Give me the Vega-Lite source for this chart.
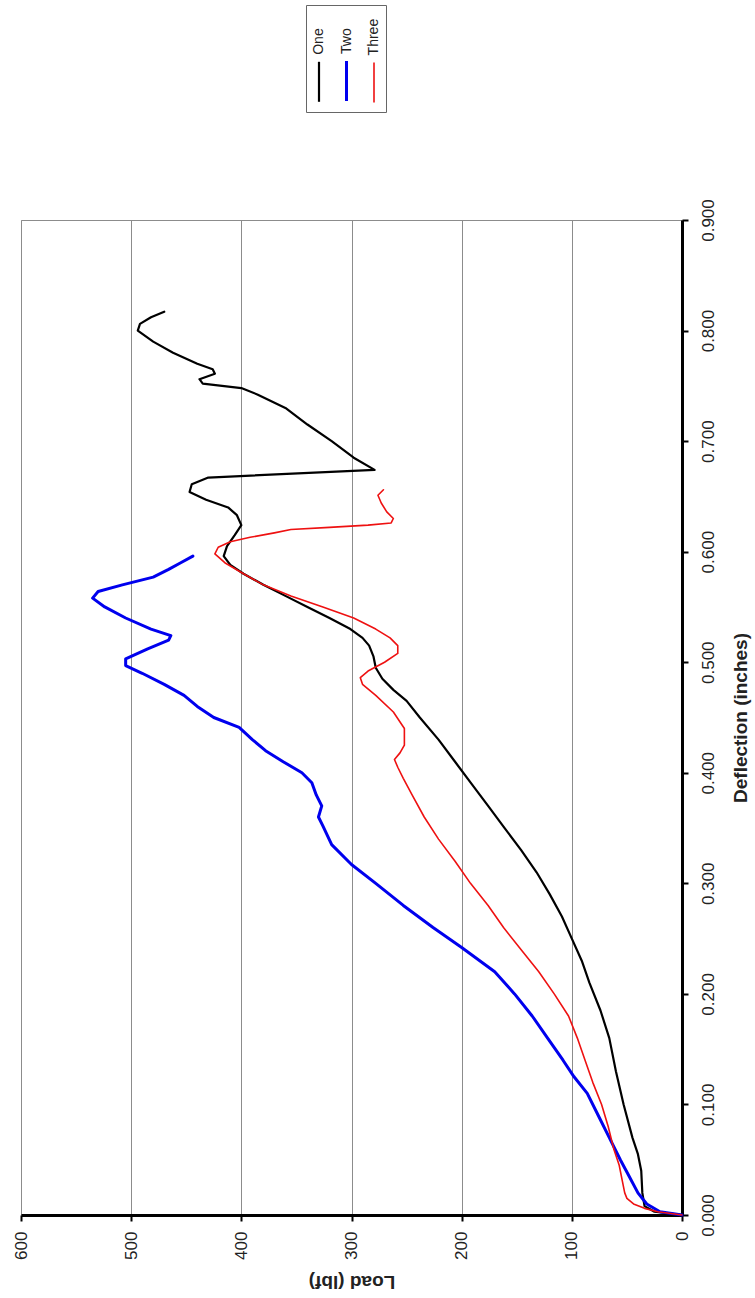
{
  "$schema": "https://vega.github.io/schema/vega-lite/v6.json",
  "width": 661,
  "height": 995,
  "autosize": {"type": "none"},
  "padding": {"left": 21, "top": 220, "right": 73, "bottom": 83},
  "background": "white",
  "config": {
    "font": "Liberation Sans",
    "view": {"stroke": "#8c8c8c", "strokeWidth": 1}
  },
  "data": {
    "values": [
      {"s":"One","d":0,"l":0},{"s":"One","d":0.003,"l":25},{"s":"One","d":0.008,"l":34},{"s":"One","d":0.02,"l":36},{"s":"One","d":0.04,"l":37},{"s":"One","d":0.055,"l":40},{"s":"One","d":0.07,"l":45},{"s":"One","d":0.1,"l":53},{"s":"One","d":0.13,"l":60},{"s":"One","d":0.16,"l":66},{"s":"One","d":0.185,"l":74},{"s":"One","d":0.21,"l":84},{"s":"One","d":0.23,"l":91},{"s":"One","d":0.25,"l":100},{"s":"One","d":0.27,"l":109},{"s":"One","d":0.29,"l":120},{"s":"One","d":0.31,"l":132},{"s":"One","d":0.33,"l":146},{"s":"One","d":0.35,"l":161},{"s":"One","d":0.37,"l":176},{"s":"One","d":0.39,"l":191},{"s":"One","d":0.41,"l":206},{"s":"One","d":0.43,"l":221},{"s":"One","d":0.45,"l":238},{"s":"One","d":0.465,"l":250},{"s":"One","d":0.475,"l":262},{"s":"One","d":0.485,"l":272},{"s":"One","d":0.495,"l":278},{"s":"One","d":0.505,"l":280},{"s":"One","d":0.515,"l":284},{"s":"One","d":0.522,"l":290},{"s":"One","d":0.53,"l":301},{"s":"One","d":0.54,"l":320},{"s":"One","d":0.55,"l":340},{"s":"One","d":0.56,"l":360},{"s":"One","d":0.57,"l":380},{"s":"One","d":0.58,"l":398},{"s":"One","d":0.588,"l":410},{"s":"One","d":0.596,"l":416},{"s":"One","d":0.605,"l":413},{"s":"One","d":0.615,"l":406},{"s":"One","d":0.624,"l":400},{"s":"One","d":0.633,"l":404},{"s":"One","d":0.64,"l":412},{"s":"One","d":0.647,"l":432},{"s":"One","d":0.654,"l":447},{"s":"One","d":0.661,"l":445},{"s":"One","d":0.667,"l":430},{"s":"One","d":0.674,"l":279},{"s":"One","d":0.685,"l":298},{"s":"One","d":0.7,"l":318},{"s":"One","d":0.715,"l":340},{"s":"One","d":0.73,"l":360},{"s":"One","d":0.742,"l":385},{"s":"One","d":0.748,"l":400},{"s":"One","d":0.752,"l":435},{"s":"One","d":0.756,"l":438},{"s":"One","d":0.761,"l":424},{"s":"One","d":0.765,"l":426},{"s":"One","d":0.77,"l":440},{"s":"One","d":0.78,"l":462},{"s":"One","d":0.79,"l":480},{"s":"One","d":0.8,"l":494},{"s":"One","d":0.806,"l":492},{"s":"One","d":0.812,"l":482},{"s":"One","d":0.817,"l":470},
      {"s":"Two","d":0,"l":0},{"s":"Two","d":0.003,"l":20},{"s":"Two","d":0.01,"l":32},{"s":"Two","d":0.02,"l":40},{"s":"Two","d":0.035,"l":48},{"s":"Two","d":0.05,"l":56},{"s":"Two","d":0.07,"l":66},{"s":"Two","d":0.09,"l":76},{"s":"Two","d":0.11,"l":86},{"s":"Two","d":0.125,"l":98},{"s":"Two","d":0.14,"l":108},{"s":"Two","d":0.16,"l":122},{"s":"Two","d":0.18,"l":136},{"s":"Two","d":0.2,"l":152},{"s":"Two","d":0.22,"l":170},{"s":"Two","d":0.242,"l":200},{"s":"Two","d":0.26,"l":226},{"s":"Two","d":0.28,"l":253},{"s":"Two","d":0.3,"l":278},{"s":"Two","d":0.317,"l":300},{"s":"Two","d":0.335,"l":318},{"s":"Two","d":0.352,"l":326},{"s":"Two","d":0.36,"l":330},{"s":"Two","d":0.37,"l":327},{"s":"Two","d":0.38,"l":332},{"s":"Two","d":0.391,"l":336},{"s":"Two","d":0.4,"l":345},{"s":"Two","d":0.41,"l":362},{"s":"Two","d":0.42,"l":378},{"s":"Two","d":0.43,"l":390},{"s":"Two","d":0.441,"l":402},{"s":"Two","d":0.45,"l":425},{"s":"Two","d":0.46,"l":440},{"s":"Two","d":0.47,"l":452},{"s":"Two","d":0.48,"l":470},{"s":"Two","d":0.49,"l":490},{"s":"Two","d":0.497,"l":505},{"s":"Two","d":0.503,"l":505},{"s":"Two","d":0.512,"l":485},{"s":"Two","d":0.52,"l":466},{"s":"Two","d":0.524,"l":464},{"s":"Two","d":0.53,"l":482},{"s":"Two","d":0.54,"l":505},{"s":"Two","d":0.55,"l":524},{"s":"Two","d":0.558,"l":535},{"s":"Two","d":0.564,"l":530},{"s":"Two","d":0.57,"l":508},{"s":"Two","d":0.577,"l":480},{"s":"Two","d":0.584,"l":466},{"s":"Two","d":0.59,"l":455},{"s":"Two","d":0.596,"l":444},
      {"s":"Three","d":0,"l":0},{"s":"Three","d":0.003,"l":22},{"s":"Three","d":0.006,"l":34},{"s":"Three","d":0.01,"l":44},{"s":"Three","d":0.015,"l":50},{"s":"Three","d":0.02,"l":52},{"s":"Three","d":0.03,"l":54},{"s":"Three","d":0.045,"l":57},{"s":"Three","d":0.06,"l":62},{"s":"Three","d":0.08,"l":67},{"s":"Three","d":0.1,"l":73},{"s":"Three","d":0.12,"l":81},{"s":"Three","d":0.14,"l":88},{"s":"Three","d":0.16,"l":95},{"s":"Three","d":0.18,"l":103},{"s":"Three","d":0.2,"l":116},{"s":"Three","d":0.22,"l":130},{"s":"Three","d":0.24,"l":146},{"s":"Three","d":0.26,"l":162},{"s":"Three","d":0.28,"l":176},{"s":"Three","d":0.3,"l":192},{"s":"Three","d":0.32,"l":206},{"s":"Three","d":0.34,"l":221},{"s":"Three","d":0.36,"l":234},{"s":"Three","d":0.38,"l":245},{"s":"Three","d":0.395,"l":253},{"s":"Three","d":0.405,"l":258},{"s":"Three","d":0.412,"l":261},{"s":"Three","d":0.418,"l":256},{"s":"Three","d":0.425,"l":252},{"s":"Three","d":0.44,"l":252},{"s":"Three","d":0.455,"l":262},{"s":"Three","d":0.47,"l":278},{"s":"Three","d":0.48,"l":290},{"s":"Three","d":0.486,"l":292},{"s":"Three","d":0.492,"l":285},{"s":"Three","d":0.5,"l":270},{"s":"Three","d":0.508,"l":258},{"s":"Three","d":0.515,"l":258},{"s":"Three","d":0.522,"l":265},{"s":"Three","d":0.53,"l":278},{"s":"Three","d":0.54,"l":298},{"s":"Three","d":0.55,"l":326},{"s":"Three","d":0.56,"l":355},{"s":"Three","d":0.57,"l":380},{"s":"Three","d":0.58,"l":398},{"s":"Three","d":0.59,"l":415},{"s":"Three","d":0.598,"l":424},{"s":"Three","d":0.604,"l":421},{"s":"Three","d":0.609,"l":410},{"s":"Three","d":0.613,"l":392},{"s":"Three","d":0.617,"l":370},{"s":"Three","d":0.62,"l":355},{"s":"Three","d":0.622,"l":320},{"s":"Three","d":0.624,"l":285},{"s":"Three","d":0.626,"l":264},{"s":"Three","d":0.63,"l":262},{"s":"Three","d":0.636,"l":268},{"s":"Three","d":0.644,"l":273},{"s":"Three","d":0.651,"l":276},{"s":"Three","d":0.656,"l":271}
    ]
  },
  "mark": {"type": "line", "strokeJoin": "round", "strokeCap": "round"},
  "encoding": {
    "x": {
      "field": "l", "type": "quantitative",
      "scale": {"domain": [0, 600], "reverse": true, "nice": false, "zero": false},
      "axis": {
        "values": [0, 100, 200, 300, 400, 500, 600],
        "title": "Load (lbf)", "titleAngle": 180, "titleFontSize": 19, "titleFontWeight": "bold",
        "titleY": 66, "titleBaseline": "middle", "titleColor": "#222",
        "labelAngle": 270, "labelAlign": "right", "labelBaseline": "middle", "labelPadding": 10,
        "labelFontSize": 17, "labelColor": "#222", "labelFlush": false, "labelOverlap": false,
        "grid": true, "gridColor": "#8c8c8c", "gridWidth": 1,
        "domainColor": "#000", "domainWidth": 3, "tickColor": "#000", "tickWidth": 2, "tickSize": 6
      }
    },
    "y": {
      "field": "d", "type": "quantitative",
      "scale": {"domain": [0, 0.9], "nice": false, "zero": false},
      "axis": {
        "orient": "right",
        "values": [0, 0.1, 0.2, 0.3, 0.4, 0.5, 0.6, 0.7, 0.8, 0.9],
        "format": ".3f", "grid": false,
        "title": "Deflection (inches)", "titleAngle": 270, "titleX": 58, "titleBaseline": "middle",
        "titleFontWeight": "bold", "titleFontSize": 19, "titleColor": "#222",
        "labelAngle": 270, "labelAlign": "center", "labelBaseline": "middle", "labelPadding": 20,
        "labelFontSize": 17, "labelColor": "#222", "labelFlush": false, "labelOverlap": false,
        "domainColor": "#000", "domainWidth": 3, "tickColor": "#000", "tickWidth": 2, "tickSize": 6
      }
    },
    "color": {
      "field": "s", "type": "nominal",
      "scale": {"domain": ["One", "Two", "Three"], "range": ["#000000", "#0000ee", "#ee1111"]},
      "legend": {
        "orient": "none", "legendX": 285, "legendY": -215,
        "direction": "horizontal", "title": null,
        "symbolType": "M0,-1L0,1", "symbolSize": 1600, "symbolStrokeWidth": 2,
        "labelFontSize": 14, "labelColor": "#222",
        "strokeColor": "#666", "padding": 5, "columnPadding": 12.5, "labelOffset": 0,
        "encoding": {
          "symbols": {"x": {"value": 8}, "y": {"value": 71}},
          "labels": {
            "angle": {"value": 270}, "align": {"value": "left"}, "baseline": {"value": "middle"},
            "x": {"value": 8}, "y": {"value": 44}
          }
        }
      }
    },
    "strokeWidth": {
      "field": "s", "type": "nominal",
      "scale": {"type": "ordinal", "domain": ["One", "Two", "Three"], "range": [2.2, 3, 1.6]},
      "legend": null
    },
    "order": {"field": "d", "type": "quantitative"}
  }
}
